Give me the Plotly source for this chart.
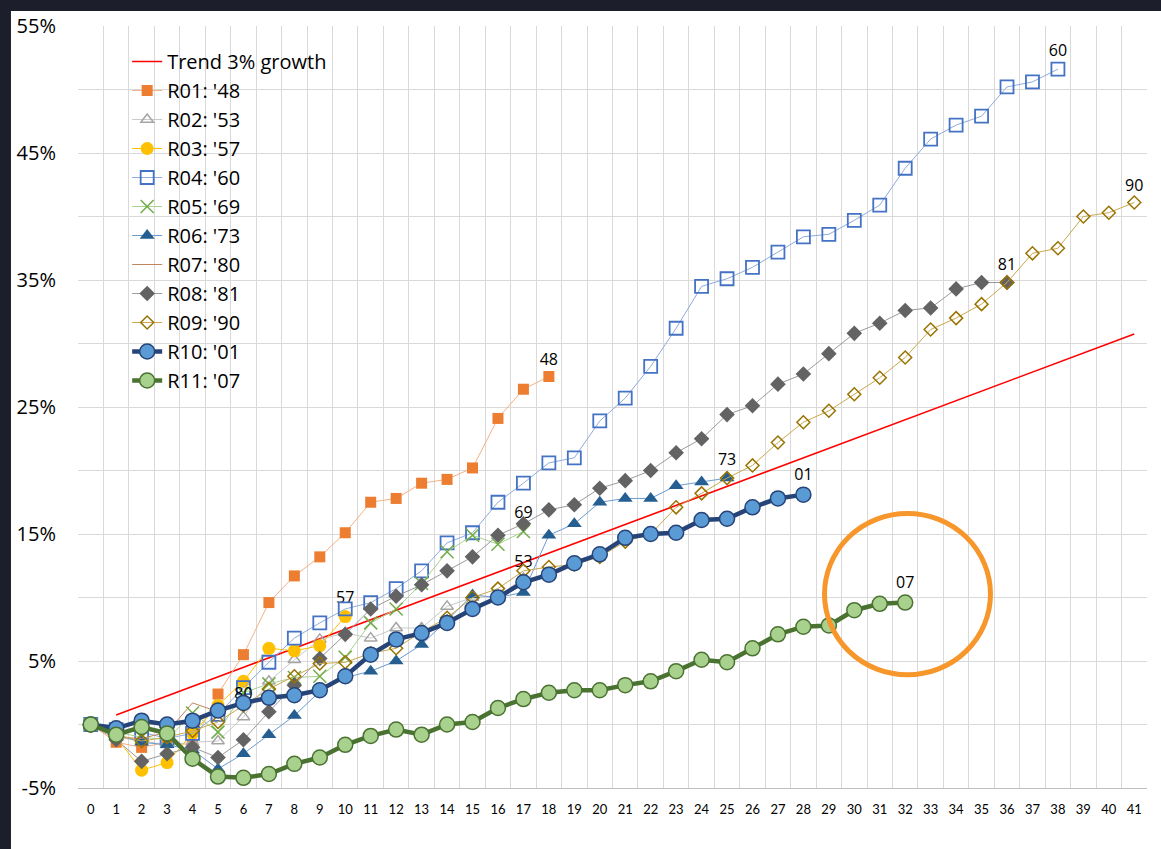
"""Cumulative growth by recovery, compared against a 3% trend line."""

import plotly.graph_objects as go


COLOR_MAP = {
    "Frame": "#1c1f2b",
    "Grid": "#d9d9d9",
    "Trend": "#ff0000",
    "Orange": "#ed7d31",
    "Orange_light": "#f4b183",
    "Grey": "#a5a5a5",
    "Grey_light": "#c9c9c9",
    "Yellow": "#ffc000",
    "Blue": "#4472c4",
    "Blue_light": "#8faadc",
    "Green": "#70ad47",
    "Green_light": "#a9d18e",
    "Navy_tri": "#255e91",
    "Sky": "#6a9bd0",
    "Brown": "#c0855a",
    "Charcoal": "#636363",
    "Charcoal_light": "#9a9a9a",
    "Gold": "#997300",
    "Gold_light": "#c9a84c",
    "Navy": "#264478",
    "Marine": "#5b9bd5",
    "Forest": "#4a7231",
    "Circle": "#f7962b",
}

PERIODS = list(range(42))

TREND_X = [1, 41]
TREND_Y = [0.75, 30.75]

R01 = [0, -1.4, -1.8, -1.4, -1.6, 2.4, 5.5, 9.6, 11.7, 13.2, 15.1, 17.5, 17.8,
       19.0, 19.3, 20.2, 24.1, 26.4, 27.4]
R02 = [0, -1.0, -1.3, -1.6, -1.4, -1.3, 0.6, 3.4, 5.1, 6.7, 7.2, 6.8, 7.6, 7.6,
       9.3, 10.0, 10.1, 11.5]
R03 = [0, -1.0, -3.6, -3.0, -0.7, 1.5, 3.4, 6.0, 5.8, 6.2, 8.5]
R04 = [0, -0.4, -0.6, -1.1, -0.7, 0.8, 2.9, 4.9, 6.8, 8.0, 9.1, 9.6, 10.7, 12.1,
       14.3, 15.1, 17.5, 19.0, 20.6, 21.0, 23.9, 25.7, 28.2, 31.2, 34.5, 35.1,
       36.0, 37.2, 38.4, 38.6, 39.7, 40.9, 43.8, 46.1, 47.2, 47.9, 50.2, 50.6,
       51.6]
R05 = [0, -0.6, -1.0, -1.2, 0.9, -0.6, 2.5, 3.2, 3.7, 3.8, 5.3, 8.0, 9.1, 11.1,
       13.6, 14.9, 14.2, 15.2]
R06 = [0, -0.8, -1.4, -1.6, -2.0, -3.5, -2.3, -0.8, 0.7, 2.6, 3.7, 4.2, 5.0, 6.3,
       8.2, 10.2, 10.0, 10.4, 14.9, 15.8, 17.5, 17.8, 17.8, 18.8, 19.1, 19.4]
R07 = [0, -1.0, -1.1, -0.6, 1.7, 1.0, 1.7]
R08 = [0, -1.2, -2.9, -2.3, -1.8, -2.6, -1.2, 1.0, 3.1, 5.2, 7.1, 9.1, 10.1, 11.0,
       12.1, 13.2, 14.9, 15.8, 16.9, 17.3, 18.6, 19.2, 20.0, 21.4, 22.5, 24.4,
       25.1, 26.8, 27.6, 29.2, 30.8, 31.6, 32.6, 32.8, 34.3, 34.8, 34.8]
R09 = [0, -0.8, -1.3, -1.0, -0.5, 0.2, 1.5, 2.8, 3.8, 4.8, 4.9, 5.6, 6.0, 7.3,
       8.4, 10.0, 10.7, 12.1, 12.4, 12.6, 13.2, 14.4, 15.0, 17.1, 18.2, 19.4,
       20.4, 22.2, 23.8, 24.7, 26.0, 27.3, 28.9, 31.1, 32.0, 33.1, 34.8, 37.1,
       37.5, 40.0, 40.3, 41.1]
R10 = [0, -0.3, 0.3, 0.0, 0.3, 1.1, 1.7, 2.1, 2.3, 2.7, 3.8, 5.5, 6.7, 7.2, 8.0,
       9.1, 10.0, 11.2, 11.8, 12.7, 13.4, 14.7, 15.0, 15.1, 16.1, 16.2, 17.1,
       17.8, 18.1]
R11 = [0, -0.8, -0.2, -0.7, -2.7, -4.1, -4.2, -3.9, -3.1, -2.6, -1.6, -0.9, -0.4,
       -0.8, 0.0, 0.2, 1.3, 2.0, 2.5, 2.7, 2.7, 3.1, 3.4, 4.2, 5.1, 4.9, 6.0,
       7.1, 7.7, 7.8, 9.0, 9.5, 9.6]

Y_TICKS = list(range(-5, 56, 5))
Y_LABELS = [f"{v}%" if v % 10 else "" for v in Y_TICKS]

FONT = "'Open Sans', Lato, sans-serif"
FONT_NARROW = "Lato, 'Open Sans', sans-serif"

# name, values, end label, line colour, line width, marker settings
SERIES = [
    ("R01: '48", R01, "48", "Orange_light", 1,
     dict(symbol="square", size=11, color=COLOR_MAP["Orange"])),
    ("R02: '53", R02, "53", "Grey_light", 1,
     dict(symbol="triangle-up-open", size=11, color=COLOR_MAP["Grey"],
          line=dict(width=1.5))),
    ("R03: '57", R03, "57", "Yellow", 1,
     dict(symbol="circle", size=13, color=COLOR_MAP["Yellow"])),
    ("R04: '60", R04, "60", "Blue_light", 1,
     dict(symbol="square-open", size=13, color=COLOR_MAP["Blue"],
          line=dict(width=1.8))),
    ("R05: '69", R05, "69", "Green_light", 1,
     dict(symbol="x-thin", size=13, color=COLOR_MAP["Green"],
          line=dict(width=1.5, color=COLOR_MAP["Green"]))),
    ("R06: '73", R06, "73", "Sky", 1,
     dict(symbol="triangle-up", size=13, color=COLOR_MAP["Navy_tri"])),
    ("R07: '80", R07, "80", "Brown", 1, None),
    ("R08: '81", R08, "81", "Charcoal_light", 1,
     dict(symbol="diamond", size=12, color=COLOR_MAP["Charcoal"])),
    ("R09: '90", R09, "90", "Gold_light", 1,
     dict(symbol="diamond-open", size=10, color=COLOR_MAP["Gold"],
          line=dict(width=1.5))),
    ("R10: '01", R10, "01", "Navy", 4.5,
     dict(symbol="circle", size=15, color=COLOR_MAP["Marine"],
          line=dict(width=1.5, color=COLOR_MAP["Navy"]))),
    ("R11: '07", R11, "07", "Forest", 4.5,
     dict(symbol="circle", size=15, color=COLOR_MAP["Green_light"],
          line=dict(width=1.5, color=COLOR_MAP["Forest"]))),
]


def end_labels(values: list, label: str) -> list:
    """Put the label on the last point only."""
    return [""] * (len(values) - 1) + [label]


fig = go.Figure()

fig.add_trace(
    go.Scatter(
        x=TREND_X,
        y=TREND_Y,
        name="Trend 3% growth",
        mode="lines",
        line=dict(color=COLOR_MAP["Trend"], width=1.6),
        legendgroup="trend",
    )
)

for name, values, label, line_key, width, marker in SERIES:
    fig.add_trace(
        go.Scatter(
            x=PERIODS[: len(values)],
            y=values,
            name=name,
            mode="lines+text" if marker is None else "lines+markers+text",
            line=dict(color=COLOR_MAP[line_key], width=width),
            marker=marker,
            text=end_labels(values, label),
            textposition="top center",
            textfont=dict(family=FONT, size=16, color="black"),
            cliponaxis=False,
            legendgroup=name,
        )
    )

# frame of the screenshot: dark strip on top and left
frame = dict(type="rect", xref="paper", yref="paper", line_width=0,
             fillcolor=COLOR_MAP["Frame"], layer="above")
fig.add_shape(x0=-0.08, x1=-0.0627, y0=-0.09, y1=1.04, **frame)
fig.add_shape(x0=-0.08, x1=1.02, y0=1.0196, y1=1.04, **frame)

# orange highlight circle round R11's end
fig.add_shape(
    type="circle", xref="x", yref="y",
    x0=28.83, x1=35.35, y0=3.92, y1=16.62,
    line=dict(color=COLOR_MAP["Circle"], width=5),
)

fig.update_layout(
    width=1161,
    height=849,
    margin=dict(l=78, r=14, t=22, b=61),
    paper_bgcolor="white",
    plot_bgcolor="white",
    font=dict(family=FONT, color="black"),
    showlegend=True,
    legend=dict(
        x=0.046, y=0.979, xanchor="left", yanchor="top",
        bgcolor="rgba(255,255,255,0)",
        font=dict(family=FONT, size=20, color="black"),
        traceorder="grouped",
        tracegroupgap=0,
    ),
    xaxis=dict(
        range=[-0.5, 41.5],
        tickmode="array",
        tickvals=PERIODS,
        ticktext=[str(p) for p in PERIODS],
        showgrid=False,
        zeroline=False,
        showline=True,
        linecolor="#bfbfbf",
        ticks="outside",
        ticklen=9,
        tickcolor="rgba(0,0,0,0)",
        tickfont=dict(family=FONT_NARROW, size=13),
        minor=dict(
            tickmode="array",
            tickvals=[p - 0.5 for p in PERIODS] + [41.5],
            showgrid=True,
            gridcolor=COLOR_MAP["Grid"],
            gridwidth=1,
        ),
    ),
    yaxis=dict(
        range=[-5, 55],
        tickmode="array",
        tickvals=Y_TICKS,
        ticktext=Y_LABELS,
        showgrid=True,
        gridcolor=COLOR_MAP["Grid"],
        zeroline=False,
        ticks="outside",
        ticklen=17,
        tickcolor="rgba(0,0,0,0)",
        tickfont=dict(family=FONT, size=20),
    ),
)

fig.write_html(
    "out.html",
    config={"displayModeBar": False},
    post_script="document.body.style.margin = '0';",
)
